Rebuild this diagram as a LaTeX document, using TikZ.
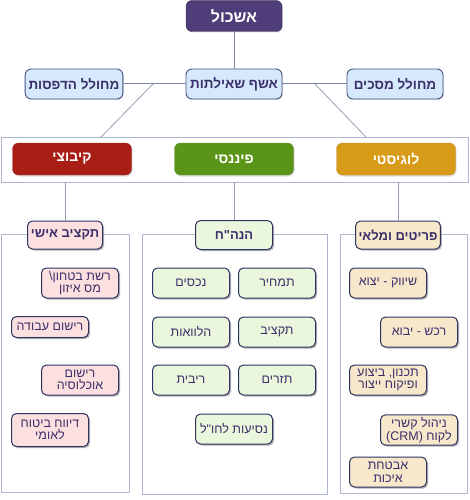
\documentclass[tikz,border=0pt]{standalone}
\usepackage{fontspec}
\usetikzlibrary{shadows}
\newfontfamily\hebfont[Script=Hebrew, BoldFont={Liberation Sans Bold}]{Liberation Sans}
\TeXXeTstate=1
\newcommand\heb[1]{{\hebfont\beginR #1\endR}}
\definecolor{ashkolfill}{HTML}{4E3D78}
\definecolor{ashkolline}{HTML}{3A2C5E}
\definecolor{queryfill}{HTML}{D6E9FC}
\definecolor{queryline}{HTML}{4A5280}
\definecolor{inktext}{HTML}{3B2F6B}
\definecolor{redcat}{HTML}{A81E14}
\definecolor{greencat}{HTML}{5A9518}
\definecolor{goldcat}{HTML}{D89B17}
\definecolor{pinkfill}{HTML}{FCE0E0}
\definecolor{mintfill}{HTML}{EAF7DC}
\definecolor{beigefill}{HTML}{F7E8CC}
\definecolor{itemline}{HTML}{2E3462}
\definecolor{linkgray}{HTML}{7A86A8}
\definecolor{panelgray}{HTML}{AEB6CE}

\begin{document}
\begin{tikzpicture}[x=1pt,y=-1pt,
    link/.style={draw=linkgray, line width=1pt},
    thinlink/.style={draw=linkgray!80, line width=0.8pt},
    panel/.style={draw=panelgray, line width=0.9pt},
    ashkolbox/.style={fill=ashkolfill, draw=ashkolline, rounded corners=6pt,
      minimum width=96pt, minimum height=31pt, text=white,
      font=\fontsize{16}{18}\selectfont\bfseries,
      drop shadow={shadow xshift=1pt, shadow yshift=-1pt, fill=black!30}},
    querybox/.style={fill=queryfill, draw=queryline, line width=0.9pt, rounded corners=6pt,
      minimum width=96pt, minimum height=30pt, text=inktext,
      font=\fontsize{13.5}{15}\selectfont\bfseries,
      drop shadow={shadow xshift=1pt, shadow yshift=-1pt, fill=black!25}},
    catbox/.style={fill=#1, draw=#1!70!gray, rounded corners=6pt,
      minimum width=119pt, minimum height=32pt, text=white,
      font=\fontsize{14}{16}\selectfont\bfseries,
      drop shadow={shadow xshift=1pt, shadow yshift=-1.5pt, fill=black!25}},
    hdrbox/.style={fill=#1, draw=itemline, line width=1pt, rounded corners=5pt,
      minimum height=28pt, text=inktext, inner xsep=3pt,
      font=\fontsize{13}{14}\selectfont\bfseries,
      drop shadow={shadow xshift=1.5pt, shadow yshift=-1.5pt, fill=black!60}},
    itembox/.style={fill=#1, draw=itemline, line width=1pt, rounded corners=5pt,
      minimum width=77pt, minimum height=30pt, text=inktext, align=center,
      inner xsep=2pt, inner ysep=2pt,
      font=\fontsize{12.5}{12.5}\selectfont,
      drop shadow={shadow xshift=1.5pt, shadow yshift=-1.5pt, fill=black!60}}]
\useasboundingbox (0,0) rectangle (470,500);

% top: ashkol and its tools
\node[ashkolbox] (ashkol) at (234,16) {\heb{אשכול}};
\node[querybox] (wizard) at (234,84) {\heb{אשף שאילתות}};
\node[querybox] (prints) at (74,84) {\heb{מחולל הדפסות}};
\node[querybox] (screens) at (395,84) {\heb{מחולל מסכים}};
\coordinate (forkL) at (153,84);
\coordinate (forkR) at (315,84);
\coordinate (bandL) at (101,137);
\coordinate (bandR) at (366,137);
\draw[link] (ashkol) -- (wizard);
\draw[link] (prints) -- (wizard);
\draw[link] (wizard) -- (screens);
\draw[thinlink] (forkL) -- (bandL);
\draw[thinlink] (forkR) -- (bandR);

% band with the three systems
\node[draw=panelgray, fill=white, line width=0.9pt, minimum width=467pt, minimum height=45pt,
  inner sep=0pt] (band) at (234.5,159.5) {};
\node[catbox=redcat] (kibbutz) at (72,159) {\heb{קיבוצי}};
\node[catbox=greencat] (finance) at (234,159) {\heb{פיננסי}};
\node[catbox=goldcat] (logistic) at (396,159) {\heb{לוגיסטי}};

% panels
\draw[panel] (1,234) rectangle (129,492);
\draw[panel] (142,234) rectangle (327,494);
\draw[panel] (340,234) rectangle (467,493);

\node[hdrbox=pinkfill, minimum width=75pt] (budget) at (65,235) {\heb{תקציב אישי}};
\node[hdrbox=mintfill, minimum width=77pt, minimum height=29pt] (ledger) at (234,235) {\heb{הנה"ח}};
\node[hdrbox=beigefill, minimum width=69pt] (stock) at (398,235) {\heb{פריטים ומלאי}};
\draw[thinlink] (budget.north) -- (budget.north |- band.south);
\draw[thinlink] (ledger.north) -- (ledger.north |- band.south);
\draw[thinlink] (stock.north) -- (stock.north |- band.south);

% personal budget
\node[itembox=pinkfill] (safetynet) at (80,283) {\heb{רשת בטחון\textbackslash}\\\heb{מס איזון}};
\node[itembox=pinkfill, minimum height=21pt] (worklog) at (50,327) {\heb{רישום עבודה}};
\node[itembox=pinkfill] (population) at (80,380) {\heb{רישום}\\\heb{אוכלוסיה}};
\node[itembox=pinkfill, minimum height=33pt] (insurance) at (50,430) {\heb{דיווח ביטוח}\\\heb{לאומי}};

% ledger
\node[itembox=mintfill] (costing) at (277,283) {\heb{תמחיר}};
\node[itembox=mintfill] (assets) at (191,283) {\heb{נכסים}};
\node[itembox=mintfill] (plan) at (277,332) {\heb{תקציב}};
\node[itembox=mintfill] (loans) at (191,332) {\heb{הלוואות}};
\node[itembox=mintfill] (cashflow) at (277,380) {\heb{תזרים}};
\node[itembox=mintfill] (interest) at (191,380) {\heb{ריבית}};
\node[itembox=mintfill] (travel) at (234,429) {\heb{נסיעות לחו"ל}};

% items and stock
\node[itembox=beigefill] (export) at (388,283) {\heb{שיווק - יצוא}};
\node[itembox=beigefill] (import) at (419,332) {\heb{רכש - יבוא}};
\node[itembox=beigefill] (production) at (388,380) {\heb{תכנון, ביצוע}\\\heb{ופיקוח ייצור}};
\node[itembox=beigefill] (crm) at (419,430) {\heb{ניהול קשרי}\\\heb{לקוח \beginL(CRM)\endL{}}};
\node[itembox=beigefill] (quality) at (388,472) {\heb{אבטחת}\\\heb{איכות}};
\end{tikzpicture}
\end{document}
